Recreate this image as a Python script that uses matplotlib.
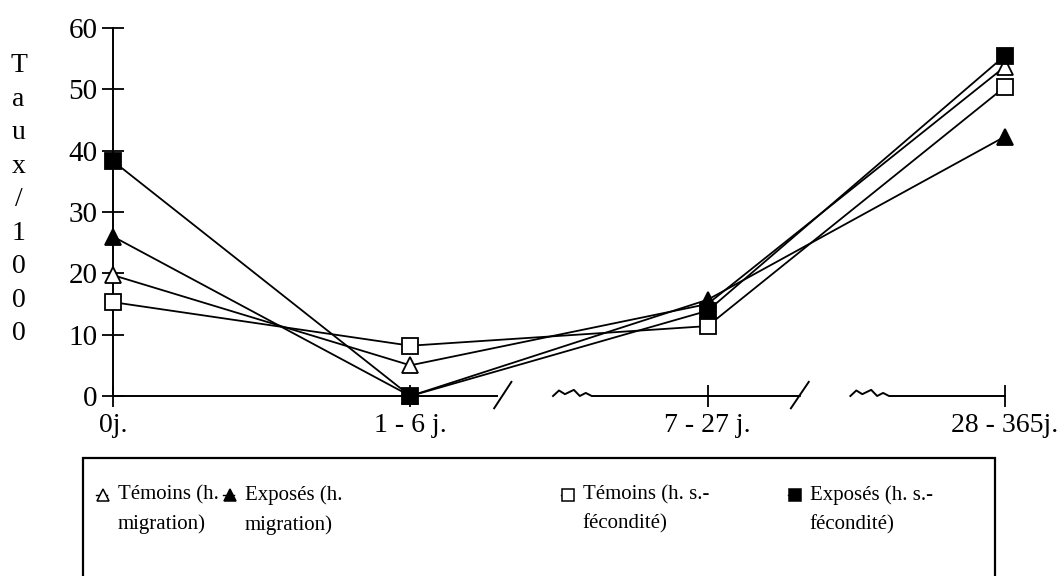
import matplotlib.pyplot as plt
from matplotlib.lines import Line2D
from matplotlib.patches import Rectangle

plt.rcParams['font.family'] = ['Liberation Serif', 'DejaVu Serif']

ages = ["0j.", "1 - 6 j.", "7 - 27 j.", "28 - 365j."]
temoins_migr = [19.7, 5.0, 15.0, 53.7]
exposes_migr = [26.0, 0.0, 15.7, 42.3]
temoins_fec = [15.3, 8.2, 11.4, 50.4]
exposes_fec = [38.3, 0.0, 13.9, 55.5]

series = [
    ("Témoins (h.\nmigration)", temoins_migr, "^", "white"),
    ("Exposés (h.\nmigration)", exposes_migr, "^", "black"),
    ("Témoins (h. s.-\nfécondité)", temoins_fec, "s", "white"),
    ("Exposés (h. s.-\nfécondité)", exposes_fec, "s", "black"),
]

fig = plt.figure(figsize=(10.59, 5.76), dpi=100)
ax = fig.add_axes([0.1067, 0.3125, 0.8423, 0.6389])

x = list(range(len(ages)))
for name, vals, m, fc in series:
    ax.plot(x, vals, color="black", lw=1.3, marker=m, ms=11 if m == "s" else 12,
            mfc=fc, mec="black", mew=1.3, clip_on=False, zorder=3)

ax.set_xlim(0, 3)
ax.set_ylim(0, 60)
ax.set_yticks(range(0, 61, 10))
ax.set_xticks(x)
ax.set_xticklabels(ages)
for s in ["top", "right", "bottom"]:
    ax.spines[s].set_visible(False)
ax.spines["left"].set_linewidth(1.4)
ax.tick_params(axis="y", direction="inout", length=16, width=1.3, labelsize=21, pad=3)
ax.tick_params(axis="x", direction="inout", length=16, width=1.3, labelsize=20, pad=4)

# broken x axis
kw = dict(color="black", lw=1.4, clip_on=False, zorder=2)
ax.plot([0, 1.29], [0, 0], **kw)
ax.plot([1.48, 1.50, 1.52, 1.55, 1.57, 1.59, 1.61, 2.31],
        [0, 0.9, 0.3, 1.0, 0, 0.5, 0, 0], **kw)
ax.plot([2.48, 2.50, 2.52, 2.55, 2.57, 2.59, 2.61, 3.0],
        [0, 0.9, 0.3, 1.0, 0, 0.5, 0, 0], **kw)
ax.plot([1.282, 1.34], [-2.0, 2.3], **kw)
ax.plot([2.28, 2.34], [-2.0, 2.3], **kw)

ax.text(-0.318, 32.0, "T\na\nu\nx\n/\n1\n0\n0\n0", ha="center", va="center",
        fontsize=20, linespacing=1.45)

# legend box
fig.patches.append(Rectangle((83 / 1059, -0.01), (995 - 83) / 1059, 1 - 458 / 576 + 0.01,
                             transform=fig.transFigure, fill=False, lw=1.6, ec="black"))
leg_x = [103, 230, 568, 795]
for (name, vals, m, fc), px in zip(series, leg_x):
    xf = px / 1059
    yf = 1 - 495 / 576
    fig.add_artist(Line2D([xf - 0.007, xf + 0.004], [yf, yf], color="black", lw=1,
                          transform=fig.transFigure))
    fig.add_artist(Line2D([xf], [yf], marker=m, ms=9, mfc=fc, mec="black", mew=1.1,
                          transform=fig.transFigure))
    fig.text(xf + 0.014, 1 - 485 / 576, name, ha="left", va="top", fontsize=15,
             linespacing=1.7)

fig.savefig("out.png", dpi=100)
